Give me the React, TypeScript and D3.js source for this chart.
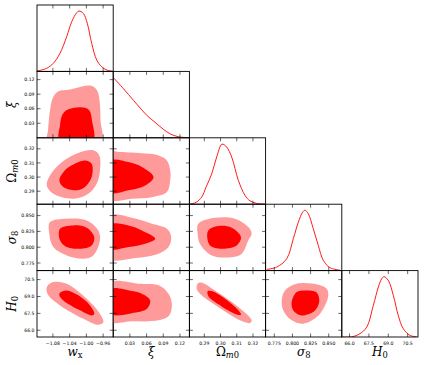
import React from "react";
import * as d3 from "d3";

// parameters, in grid order
const params = ["wx", "xi", "om", "s8", "h0"];

const domains: Record<string, [number, number]> = {
  wx: [-1.118, -0.936],
  xi: [0, 0.137],
  om: [0.2808, 0.3278],
  s8: [0.763, 0.868],
  h0: [65.4, 71.3],
};

const ticks: Record<string, number[]> = {
  wx: [-1.08, -1.04, -1.0, -0.96],
  xi: [0.03, 0.06, 0.09, 0.12],
  om: [0.29, 0.3, 0.31, 0.32],
  s8: [0.775, 0.8, 0.825, 0.85],
  h0: [66.0, 67.5, 69.0, 70.5],
};

const tickLabels: Record<string, string[]> = {
  wx: ["\u22121.08", "\u22121.04", "\u22121.00", "\u22120.96"],
  xi: ["0.03", "0.06", "0.09", "0.12"],
  om: ["0.29", "0.30", "0.31", "0.32"],
  s8: ["0.775", "0.800", "0.825", "0.850"],
  h0: ["66.0", "67.5", "69.0", "70.5"],
};

// 1D marginals: [value, density]
const wx1d = [
  [-1.1187, 0.005], [-1.0949, 0.051], [-1.0791, 0.134], [-1.0631, 0.3],
  [-1.0471, 0.575], [-1.0351, 0.823], [-1.0232, 0.972], [-1.0177, 1.0],
  [-1.0074, 0.962], [-0.9979, 0.797], [-0.9874, 0.466], [-0.9754, 0.189],
  [-0.9635, 0.078], [-0.9516, 0.023], [-0.9373, 0.005],
];
const xi1d = [
  [0, 1.0], [0.0185, 0.813], [0.0365, 0.62], [0.0606, 0.371], [0.0755, 0.255],
  [0.0905, 0.139], [0.1025, 0.065], [0.1169, 0.018], [0.137, 0.0],
];
const om1d = [
  [0.2812, 0.003], [0.2849, 0.03], [0.2884, 0.118], [0.291, 0.278],
  [0.2946, 0.505], [0.2976, 0.78], [0.3009, 0.995], [0.3038, 0.946],
  [0.3069, 0.78], [0.311, 0.394], [0.3151, 0.146], [0.3182, 0.055],
  [0.3223, 0.013], [0.3274, 0.0],
];
const s81d = [
  [0.7645, 0.02], [0.7783, 0.058], [0.7921, 0.197], [0.8012, 0.528],
  [0.8081, 0.803], [0.8141, 0.969], [0.8173, 1.0], [0.8218, 0.943],
  [0.8287, 0.694], [0.8356, 0.417], [0.8425, 0.169], [0.8517, 0.048],
  [0.8655, 0.007],
];
const h01d = [
  [65.4, 0.0], [66.17, 0.003], [66.81, 0.055], [67.33, 0.164], [67.84, 0.523],
  [68.23, 0.827], [68.49, 0.966], [68.67, 1.0], [69.0, 0.938], [69.39, 0.689],
  [69.77, 0.358], [70.16, 0.137], [70.68, 0.027], [71.2, 0.003],
];

// 2D contours: [x value, y value], outer = 95%, inner = 68%
const xiWx95 = [
  [-1.0929, -0.0054], [-1.0917, 0.0153], [-1.087, 0.0565], [-1.0798, 0.0833],
  [-1.0679, 0.0957], [-1.0392, 0.0998], [-1.0153, 0.105], [-0.9962, 0.1081],
  [-0.9819, 0.105], [-0.9723, 0.0937], [-0.9676, 0.0668], [-0.9664, 0.0359],
  [-0.9652, -0.0054],
];
const xiWx68 = [
  [-1.0643, -0.0054], [-1.0631, 0.0256], [-1.0583, 0.0462], [-1.0488, 0.0565],
  [-1.032, 0.0617], [-1.0105, 0.0627], [-0.9986, 0.0607], [-0.9914, 0.0545],
  [-0.9867, 0.0359], [-0.9843, -0.0054],
];
const omWx95 = [
  [-1.0948, 0.2941], [-1.0791, 0.2882], [-1.0313, 0.2847], [-0.9955, 0.2882],
  [-0.9754, 0.2953], [-0.9676, 0.3047], [-0.9692, 0.3153], [-0.9836, 0.3189],
  [-1.0232, 0.3166], [-1.0631, 0.3095], [-1.087, 0.3012],
];
const omWx68 = [
  [-1.0647, 0.2977], [-1.0552, 0.2929], [-1.0232, 0.2906], [-1.0034, 0.2929],
  [-0.9874, 0.3], [-0.9874, 0.3095], [-1.0034, 0.3118], [-1.0351, 0.3083],
  [-1.0552, 0.3035],
];
const s8Wx95 = [
  [-1.087, 0.8397], [-1.0471, 0.8451], [-0.9993, 0.8424], [-0.9716, 0.8266],
  [-0.9676, 0.8108], [-0.9836, 0.787], [-1.0074, 0.7818], [-1.0471, 0.787],
  [-1.0791, 0.8002], [-1.0886, 0.8213],
];
const s8Wx68 = [
  [-1.0631, 0.8292], [-1.0313, 0.8345], [-0.9993, 0.8308], [-0.9812, 0.816],
  [-0.9874, 0.8028], [-1.0153, 0.7976], [-1.0471, 0.8002], [-1.0631, 0.8108],
];
const h0Wx95 = [
  [-1.0948, 69.83], [-1.0791, 70.28], [-1.0471, 70.14], [-0.9993, 68.8],
  [-0.9676, 67.47], [-0.9597, 66.72], [-0.9716, 66.49], [-1.0074, 67.03],
  [-1.0631, 68.21], [-1.091, 69.1],
];
const h0Wx68 = [
  [-1.0631, 69.34], [-1.0471, 69.54], [-1.0194, 69.1], [-0.9914, 68.21],
  [-0.9812, 67.47], [-0.9874, 67.32], [-1.0153, 67.77], [-1.0552, 68.65],
  [-1.0647, 69.1],
];
const omXi95 = [
  [-0.0054, 0.3178], [0.0126, 0.3177], [0.0575, 0.3166], [0.0815, 0.3153],
  [0.0966, 0.3118], [0.1025, 0.3047], [0.1025, 0.2977], [0.0966, 0.2894],
  [0.0696, 0.2858], [0.0336, 0.2847], [-0.0054, 0.2842],
];
const omXi68 = [
  [-0.0054, 0.3115], [0.0275, 0.3106], [0.0516, 0.3071], [0.0725, 0.3],
  [0.0575, 0.2941], [0.0275, 0.2906], [-0.0054, 0.2892],
];
const s8Xi95 = [
  [-0.0054, 0.8495], [0.0336, 0.8466], [0.0696, 0.8372], [0.0966, 0.8292],
  [0.1043, 0.816], [0.0994, 0.8002], [0.0815, 0.7897], [0.0396, 0.7828],
  [-0.0054, 0.7818],
];
const s8Xi68 = [
  [-0.0054, 0.8356], [0.0275, 0.8345], [0.0516, 0.8266], [0.0755, 0.8134],
  [0.0575, 0.8055], [0.0275, 0.8002], [-0.0054, 0.7976],
];
const h0Xi95 = [
  [-0.0054, 70.21], [0.0455, 70.14], [0.0815, 69.99], [0.0994, 69.25],
  [0.1055, 68.36], [0.1007, 67.32], [0.0815, 66.88], [0.0336, 66.79],
  [-0.0054, 66.79],
];
const h0Xi68 = [
  [-0.0054, 69.63], [0.0336, 69.48], [0.0516, 69.25], [0.0665, 68.65],
  [0.0606, 67.91], [0.0336, 67.52], [-0.0054, 67.47],
];
const s8Om95 = [
  [0.2863, 0.8371], [0.2966, 0.8466], [0.3089, 0.8451], [0.3171, 0.8318],
  [0.3192, 0.8213], [0.3171, 0.8107], [0.3131, 0.7897], [0.3069, 0.7843],
  [0.2946, 0.787], [0.2873, 0.8055], [0.2859, 0.8213],
];
const s8Om68 = [
  [0.2925, 0.8266], [0.2986, 0.8334], [0.3069, 0.8308], [0.3126, 0.816],
  [0.31, 0.8028], [0.3007, 0.7976], [0.2935, 0.8028], [0.2918, 0.816],
];
const h0Om95 = [
  [0.2859, 70.14], [0.2884, 70.23], [0.2966, 69.54], [0.311, 68.06],
  [0.3192, 66.88], [0.3182, 66.64], [0.312, 66.88], [0.2986, 68.06],
  [0.2884, 69.1], [0.2853, 69.69],
];
const h0Om68 = [
  [0.2921, 69.48], [0.2946, 69.48], [0.3028, 68.8], [0.312, 67.61],
  [0.3126, 67.38], [0.31, 67.41], [0.3007, 68.12], [0.2925, 69.01],
];
const h0S895 = [
  [0.8059, 70.14], [0.8356, 70.05], [0.8472, 69.69], [0.8494, 69.1],
  [0.8449, 68.21], [0.8334, 67.17], [0.815, 66.58], [0.799, 66.88],
  [0.7874, 67.76], [0.7852, 68.65], [0.7897, 69.54],
];
const h0S868 = [
  [0.8059, 69.39], [0.8196, 69.54], [0.8325, 69.39], [0.837, 68.65],
  [0.8311, 67.76], [0.8127, 67.32], [0.8012, 67.76], [0.799, 68.5],
];

const marginals: Record<string, number[][]> = {
  wx: wx1d, xi: xi1d, om: om1d, s8: s81d, h0: h01d,
};

// key: row-col
const contours: Record<string, number[][][]> = {
  "1-0": [xiWx95, xiWx68],
  "2-0": [omWx95, omWx68],
  "3-0": [s8Wx95, s8Wx68],
  "4-0": [h0Wx95, h0Wx68],
  "2-1": [omXi95, omXi68],
  "3-1": [s8Xi95, s8Xi68],
  "4-1": [h0Xi95, h0Xi68],
  "3-2": [s8Om95, s8Om68],
  "4-2": [h0Om95, h0Om68],
  "4-3": [h0S895, h0S868],
};

const L = 37;
const T = 5;
const CW = 76.2;
const RH = 66.4;
const TL = 3.5;
const light = "#ff9a9a";
const dark = "#ff0000";
const tickFont = "DejaVu Sans";
const mathFont = "DejaVu Serif";

const Label = ({ p, size }: { p: string; size: number }) => {
  const sub = size * 0.7;
  if (p === "wx")
    return (
      <>
        <tspan fontStyle="italic">w</tspan>
        <tspan fontSize={sub} dy={size * 0.18}>x</tspan>
      </>
    );
  if (p === "xi") return <tspan fontStyle="italic">ξ</tspan>;
  if (p === "om")
    return (
      <>
        <tspan>Ω</tspan>
        <tspan fontSize={sub} dy={size * 0.18} fontStyle="italic">m</tspan>
        <tspan fontSize={sub}>0</tspan>
      </>
    );
  if (p === "s8")
    return (
      <>
        <tspan fontStyle="italic">σ</tspan>
        <tspan fontSize={sub} dy={size * 0.18}>8</tspan>
      </>
    );
  return (
    <>
      <tspan fontStyle="italic">H</tspan>
      <tspan fontSize={sub} dy={size * 0.18}>0</tspan>
    </>
  );
};

export default function App() {
  const n = params.length;
  const xs = params.map((p, j) =>
    d3.scaleLinear().domain(domains[p]).range([L + j * CW, L + (j + 1) * CW])
  );
  const ys = params.map((p, i) =>
    d3.scaleLinear().domain(domains[p]).range([T + (i + 1) * RH, T + i * RH])
  );

  const panels: JSX.Element[] = [];
  for (let i = 0; i < n; i++) {
    for (let j = 0; j <= i; j++) {
      const x = xs[j];
      const x0 = L + j * CW;
      const y0 = T + i * RH;
      const id = `clip-${i}-${j}`;
      const px = params[j];
      const py = params[i];
      let content: JSX.Element;
      let yTickMarks: JSX.Element | null = null;
      if (i === j) {
        const y = d3.scaleLinear().domain([0, 1.1]).range([y0 + RH, y0]);
        const line = d3
          .line<number[]>()
          .x((d) => x(d[0]))
          .y((d) => y(d[1]))
          .curve(d3.curveCatmullRom.alpha(0.5));
        content = (
          <path d={line(marginals[px]) ?? ""} fill="none" stroke={dark} strokeWidth={0.9} />
        );
      } else {
        const y = ys[i];
        const area = d3
          .line<number[]>()
          .x((d) => x(d[0]))
          .y((d) => y(d[1]))
          .curve(d3.curveCatmullRomClosed.alpha(0.5));
        const [c95, c68] = contours[`${i}-${j}`];
        content = (
          <>
            <path d={area(c95) ?? ""} fill={light} />
            <path d={area(c68) ?? ""} fill={dark} />
          </>
        );
        yTickMarks = (
          <g stroke="#000" strokeWidth={0.6}>
            {ticks[py].map((t) => (
              <g key={t}>
                <line x1={x0} x2={x0 + TL} y1={y(t)} y2={y(t)} />
                <line x1={x0 + CW} x2={x0 + CW - TL} y1={y(t)} y2={y(t)} />
              </g>
            ))}
          </g>
        );
      }
      panels.push(
        <g key={id}>
          <clipPath id={id}>
            <rect x={x0} y={y0} width={CW} height={RH} />
          </clipPath>
          <g clipPath={`url(#${id})`}>{content}</g>
          <g stroke="#000" strokeWidth={0.6}>
            {ticks[px].map((t) => (
              <g key={t}>
                <line x1={x(t)} x2={x(t)} y1={y0 + RH} y2={y0 + RH - TL} />
                <line x1={x(t)} x2={x(t)} y1={y0} y2={y0 + TL} />
              </g>
            ))}
          </g>
          {yTickMarks}
          <rect x={x0} y={y0} width={CW} height={RH} fill="none" stroke="#000" strokeWidth={0.9} />
          {i > 0 && j === 0 &&
            ticks[py].map((t, k) => (
              <text
                key={t}
                x={x0 - 2.5}
                y={ys[i](t) + 1.6}
                textAnchor="end"
                fontFamily={tickFont}
                fontSize={4.6}
              >
                {tickLabels[py][k]}
              </text>
            ))}
          {i === n - 1 &&
            ticks[px].map((t, k) => (
              <text
                key={t}
                x={x(t)}
                y={y0 + RH + 8}
                textAnchor="middle"
                fontFamily={tickFont}
                fontSize={4.6}
              >
                {tickLabels[px][k]}
              </text>
            ))}
        </g>
      );
    }
  }

  return (
    <svg width={425} height={365} style={{ position: "absolute", left: 0, top: 0 }}>
      <rect width={425} height={365} fill="#fff" />
      {panels}
      {params.map((p, j) => (
        <text
          key={`xl-${p}`}
          x={L + (j + 0.5) * CW}
          y={356}
          textAnchor="middle"
          fontFamily={mathFont}
          fontSize={12}
        >
          <Label p={p} size={12} />
        </text>
      ))}
      {params.slice(1).map((p, k) => {
        const cy = T + (k + 1.5) * RH;
        return (
          <text
            key={`yl-${p}`}
            transform={`translate(16,${cy}) rotate(-90)`}
            textAnchor="middle"
            fontFamily={mathFont}
            fontSize={12}
          >
            <Label p={p} size={12} />
          </text>
        );
      })}
    </svg>
  );
}
